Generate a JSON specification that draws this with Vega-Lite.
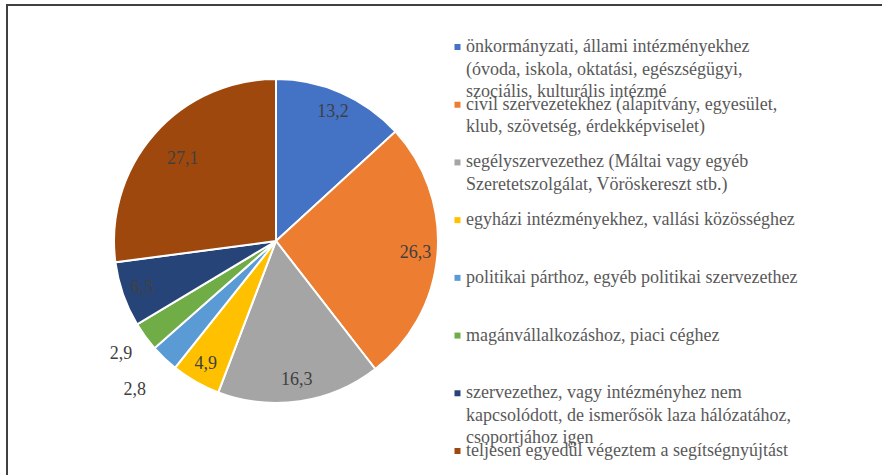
{
  "$schema": "https://vega.github.io/schema/vega-lite/v6.json",
  "background": "white",
  "padding": {"left": 6, "top": 4, "right": 0, "bottom": 0},
  "config": {
    "locale": {"number": {"decimal": ",", "thousands": " ", "grouping": [3], "currency": ["", ""]}}
  },
  "data": {
    "values": [
      {"nr": 1, "category": "önkormányzati, állami intézményekhez\n(óvoda, iskola, oktatási, egészségügyi,\nszociális, kulturális intézmé", "value": 13.2},
      {"nr": 2, "category": "civil szervezetekhez (alapítvány, egyesület,\nklub, szövetség, érdekképviselet)", "value": 26.3},
      {"nr": 3, "category": "segélyszervezethez (Máltai vagy egyéb\nSzeretetszolgálat, Vöröskereszt stb.)", "value": 16.3},
      {"nr": 4, "category": "egyházi intézményekhez, vallási közösséghez", "value": 4.9},
      {"nr": 5, "category": "politikai párthoz, egyéb politikai szervezethez", "value": 2.8},
      {"nr": 6, "category": "magánvállalkozáshoz, piaci céghez", "value": 2.9},
      {"nr": 7, "category": "szervezethez, vagy intézményhez nem\nkapcsolódott, de ismerősök laza hálózatához,\ncsoportjához igen", "value": 6.5},
      {"nr": 8, "category": "teljesen egyedül végeztem a segítségnyújtást", "value": 27.1}
    ]
  },
  "bounds": "flush",
  "spacing": 0,
  "resolve": {"scale": {"color": "shared"}},
  "hconcat": [
    {
      "width": 538,
      "height": 472,
      "view": {"stroke": "#404040", "strokeWidth": 2, "strokeDash": [538, 1010, 472]},
      "encoding": {
        "theta": {"field": "value", "type": "quantitative", "stack": true},
        "order": {"field": "nr", "type": "quantitative"}
      },
      "layer": [
        {
          "mark": {"type": "arc", "outerRadius": 162, "stroke": "white", "strokeWidth": 2},
          "encoding": {
            "color": {
              "field": "category", "type": "nominal", "sort": null,
              "scale": {"range": ["#4472C4", "#ED7D31", "#A5A5A5", "#FFC000", "#5B9BD5", "#70AD47", "#264478", "#9E480E"]},
              "legend": null
            }
          }
        },
        {
          "mark": {"type": "text", "font": "Liberation Serif, Times New Roman, DejaVu Serif, serif", "fontSize": 18, "color": "#404040"},
          "encoding": {
            "text": {"field": "value", "type": "quantitative", "format": ".1f"},
            "radius": {"field": "value", "type": "quantitative", "scale": {"type": "linear", "domain": [2.8, 2.9, 4.9, 26.5, 27.1], "range": [205, 192, 142, 140, 124], "clamp": true, "zero": false}}
          }
        }
      ]
    },
    {
      "width": 340,
      "height": 488,
      "view": {"stroke": "#404040", "strokeWidth": 2, "strokeDash": [340, 3000]},
      "encoding": {
        "y": {"field": "category", "type": "nominal", "sort": null, "scale": {"type": "point", "padding": 0.728}, "axis": null},
        "x": {"datum": 0, "type": "quantitative", "scale": {"domain": [0, 1]}, "axis": null}
      },
      "layer": [
        {
          "mark": {"type": "point", "shape": "M-30.17,-1H-28.17V1H-30.17Z", "filled": true, "size": 36, "opacity": 1, "strokeWidth": 0},
          "encoding": {
            "color": {
              "field": "category", "type": "nominal", "sort": null,
              "scale": {"range": ["#4472C4", "#ED7D31", "#A5A5A5", "#FFC000", "#5B9BD5", "#70AD47", "#264478", "#9E480E"]},
              "legend": null
            }
          }
        },
        {
          "mark": {"type": "text", "font": "Liberation Serif, Times New Roman, DejaVu Serif, serif", "fontSize": 18, "color": "#595959", "align": "left", "baseline": "middle", "dx": -79, "lineBreak": "\n", "lineHeight": 22.5},
          "encoding": {"text": {"field": "category", "type": "nominal"}}
        }
      ]
    }
  ]
}
